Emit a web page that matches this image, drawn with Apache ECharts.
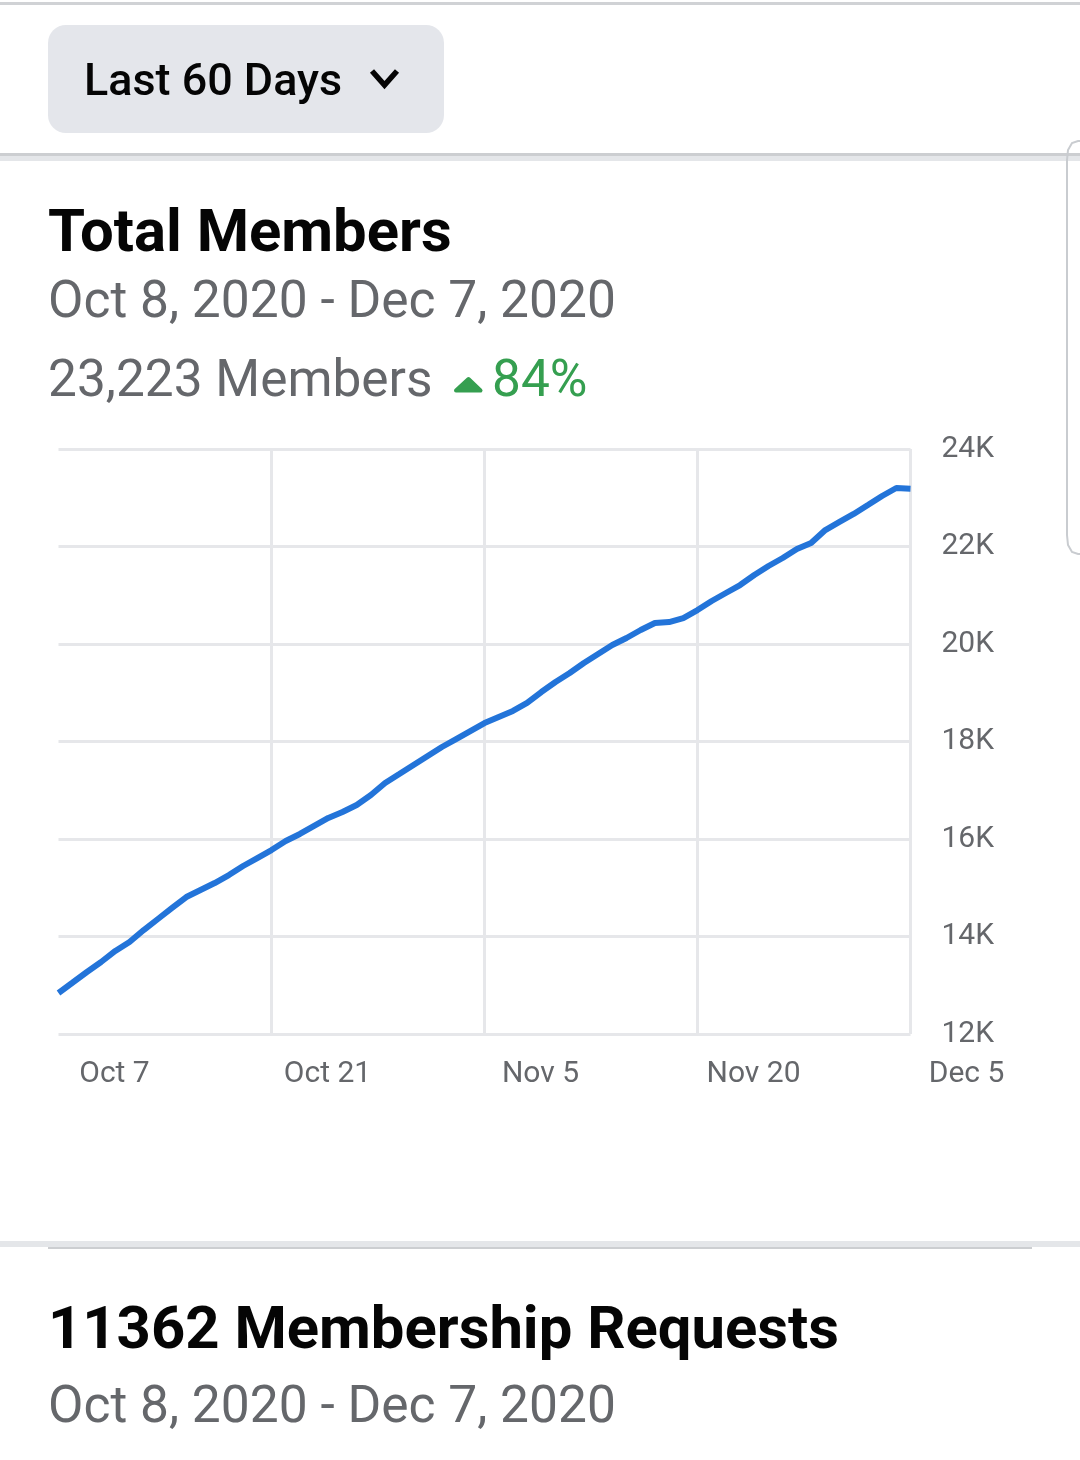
<!doctype html>
<html lang="en">
<head>
    <meta charset="utf-8">
    <title>Total Members</title>
    <script src="https://cdn.jsdelivr.net/npm/echarts@6/dist/echarts.min.js"></script>
    <style>
        *{
            margin:0;
            padding:0
        }
        html,body{
            width:100%;
            height:100%;
            background:#fff;
        }
        #main{
            width:1080px;
            height:1460px;
        }
    </style>
</head>
<body>
<div id="main"></div>
<script type="text/javascript">
    var xTickLabels = ['Oct 7', 'Oct 21', 'Nov 5', 'Nov 20', 'Dec 5'];
    // one reading per day
    var members = [
        12841, 13056, 13272, 13477, 13703, 13887, 14133, 14359, 14585, 14810,
        14954, 15097, 15261, 15446, 15610, 15774, 15959, 16103, 16267, 16431,
        16554, 16697, 16903, 17149, 17333, 17518, 17703, 17887, 18051, 18215,
        18379, 18503, 18626, 18790, 19015, 19220, 19405, 19610, 19795, 19979,
        20123, 20287, 20431, 20451, 20533, 20697, 20882, 21046, 21210, 21415,
        21600, 21764, 21949, 22072, 22338, 22503, 22667, 22851, 23036, 23200,
        23185
    ];
    var titleText = 'Total Members';
    var rangeText = 'Oct 8, 2020 - Dec 7, 2020';
    var countText = '23,223 Members';
    var changeText = '84%';
    var filterText = 'Last 60 Days';
    var requestsText = '11362 Membership Requests';

    var FONT = 'Roboto';
    var GREY = '#65676b';
    var GRID = '#e6e7ea';
    var GREEN = '#359f50';

    function txt(x, y, text, size, color, weight) {
        return {
            type: 'text', x: x, y: y, silent: true,
            style: {
                text: text, fontFamily: FONT, fontSize: size, fill: color,
                fontWeight: weight || 400, textVerticalAlign: 'middle'
            }
        };
    }
    function band(x, y, w, h, color) {
        return {type: 'rect', silent: true, shape: {x: x, y: y, width: w, height: h}, style: {fill: color}};
    }

    var seriesData = members.map(function(v, i) { return [i, v]; });

    var myChart = echarts.init(document.getElementById('main'));
    myChart.setOption({
        animation: false,
        backgroundColor: '#fff',
        grid: {left: 58.5, right: 169.5, top: 449, bottom: 426},
        xAxis: {
            type: 'value', min: 0, max: 60, interval: 15,
            axisLine: {show: false},
            axisTick: {show: false},
            splitLine: {show: true, showMinLine: false, lineStyle: {color: GRID, width: 3}},
            axisLabel: {
                fontFamily: FONT, fontSize: 30, color: GREY, margin: 25,
                padding: [0, 0, 0, 112],
                hideOverlap: false, showMinLabel: true, showMaxLabel: true,
                formatter: function(v) { return xTickLabels[v / 15]; }
            }
        },
        yAxis: {
            type: 'value', position: 'right', min: 12000, max: 24000, interval: 2000,
            axisLine: {show: false},
            axisTick: {show: false},
            splitLine: {show: true, lineStyle: {color: GRID, width: 3}},
            axisLabel: {
                fontFamily: FONT, fontSize: 30, color: GREY, margin: 31,
                padding: [5, 0, 0, 0],
                formatter: function(v) { return (v / 1000) + 'K'; }
            }
        },
        series: [{
            name: titleText, type: 'line', data: seriesData,
            symbol: 'none', smooth: false,
            lineStyle: {color: '#2374d9', width: 6}
        }],
        graphic: [
            band(0, 2, 1080, 3, '#d0d2d5'),
            band(0, 153, 1080, 3, '#ccced1'),
            band(0, 156, 1080, 5, '#e4e6e9'),
            band(0, 1241, 1080, 6, '#e4e6e9'),
            band(48, 1247, 984, 2, '#ccced1'),
            {
                type: 'rect', silent: true,
                shape: {x: 48, y: 25, width: 396, height: 108, r: 18},
                style: {fill: '#e4e6eb'}
            },
            {
                type: 'polyline', silent: true,
                shape: {points: [[372, 71], [384.5, 85], [397, 71]]},
                style: {stroke: '#050505', lineWidth: 5.5, fill: null}
            },
            {
                type: 'polyline', silent: true,
                shape: {points: [[1080, 141], [1078, 141], [1072, 143], [1068, 150], [1067, 160], [1067, 535], [1068, 545], [1072, 552], [1078, 554], [1080, 554]]},
                style: {stroke: '#c9ccd0', lineWidth: 2, fill: null}
            },
            {
                type: 'polygon', silent: true,
                shape: {points: [[468.5, 379], [480.5, 390.5], [456, 390.5]]},
                style: {fill: GREEN, stroke: GREEN, lineWidth: 4, lineJoin: 'round'}
            },
            txt(84, 84, filterText, 44.9, '#050505', 500),
            txt(48, 236, titleText, 59.8, '#050505', 700),
            txt(48, 304, rangeText, 51.5, GREY),
            txt(48, 383, countText, 51.4, GREY),
            txt(492, 383, changeText, 51.4, GREEN),
            txt(48, 1333, requestsText, 59.8, '#050505', 700),
            txt(48, 1409, rangeText, 51.5, GREY)
        ]
    });
</script>
</body>
</html>
